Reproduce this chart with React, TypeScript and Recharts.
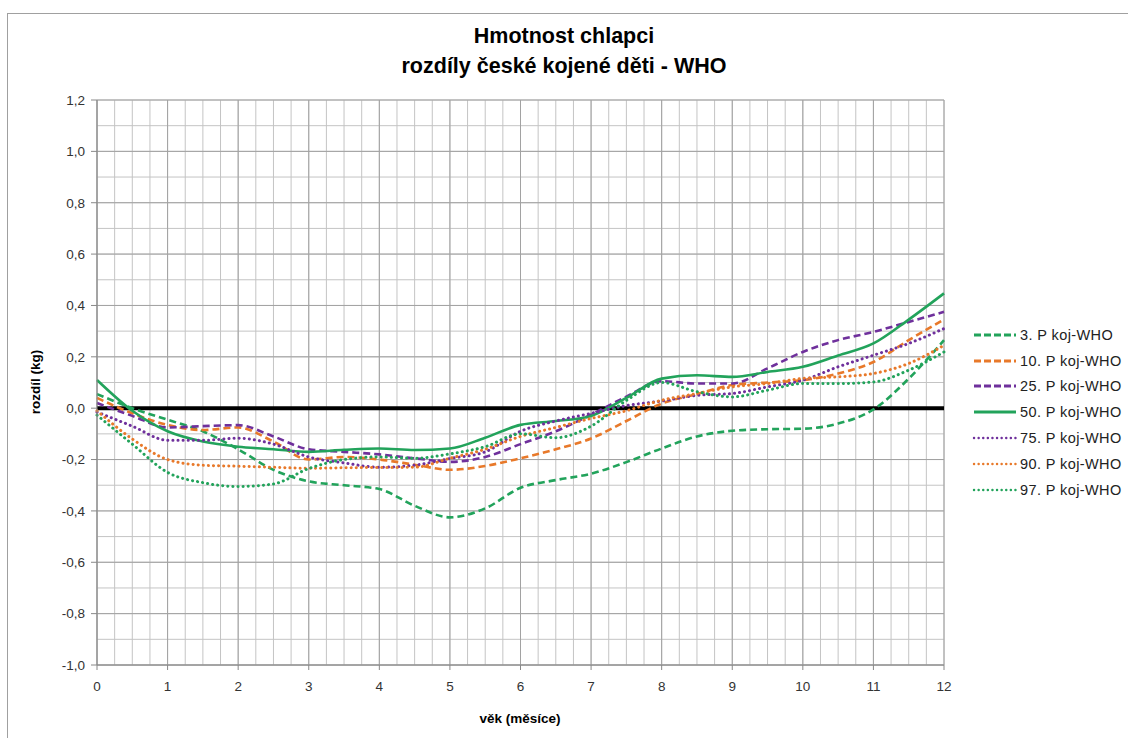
import React from "react"
import { LineChart, Line, XAxis, YAxis, CartesianGrid, ReferenceLine, Legend } from "recharts"

// months (věk) and differences in kg for each percentile
const months = [0, 0.5, 1, 1.5, 2, 2.5, 3, 3.5, 4, 4.5, 5, 5.5, 6, 6.5, 7, 7.5, 8, 8.5, 9, 9.5, 10, 10.5, 11, 11.5, 12]

const p3 = [0.055, 0.0, -0.045, -0.09, -0.16, -0.24, -0.285, -0.3, -0.315, -0.38, -0.425, -0.39, -0.31, -0.28, -0.255, -0.21, -0.157, -0.11, -0.088, -0.082, -0.08, -0.06, -0.005, 0.115, 0.265]
const p10 = [0.04, -0.02, -0.065, -0.085, -0.075, -0.13, -0.2, -0.19, -0.2, -0.22, -0.24, -0.225, -0.195, -0.16, -0.118, -0.05, 0.018, 0.055, 0.09, 0.1, 0.109, 0.135, 0.18, 0.265, 0.345]
const p25 = [0.02, -0.03, -0.075, -0.07, -0.066, -0.11, -0.16, -0.17, -0.18, -0.195, -0.209, -0.19, -0.14, -0.09, -0.025, 0.045, 0.105, 0.096, 0.096, 0.155, 0.219, 0.265, 0.297, 0.336, 0.375]
const p50 = [0.11, -0.01, -0.09, -0.13, -0.15, -0.16, -0.17, -0.162, -0.157, -0.163, -0.157, -0.115, -0.065, -0.05, -0.03, 0.04, 0.115, 0.128, 0.122, 0.141, 0.161, 0.205, 0.252, 0.345, 0.447]
const p75 = [-0.015, -0.07, -0.125, -0.125, -0.117, -0.14, -0.19, -0.213, -0.23, -0.222, -0.196, -0.17, -0.09, -0.05, -0.02, 0.01, 0.028, 0.05, 0.057, 0.083, 0.109, 0.161, 0.206, 0.252, 0.31]
const p90 = [-0.01, -0.12, -0.2, -0.222, -0.226, -0.23, -0.234, -0.232, -0.231, -0.23, -0.195, -0.16, -0.11, -0.075, -0.04, -0.01, 0.031, 0.057, 0.083, 0.096, 0.116, 0.122, 0.135, 0.174, 0.245]
const p97 = [-0.027, -0.14, -0.25, -0.29, -0.305, -0.295, -0.235, -0.2, -0.19, -0.195, -0.178, -0.15, -0.1, -0.115, -0.07, 0.03, 0.1, 0.064, 0.044, 0.07, 0.096, 0.096, 0.102, 0.148, 0.219]

const xTicks = [0, 1, 2, 3, 4, 5, 6, 7, 8, 9, 10, 11, 12]
const yTicks = [-1.0, -0.8, -0.6, -0.4, -0.2, 0, 0.2, 0.4, 0.6, 0.8, 1.0, 1.2]

const green = "#22a35b"
const orange = "#e8792a"
const purple = "#6f309c"

const series = [
  { key: "p3", name: "3. P koj-WHO", values: p3, color: green, style: "dash" },
  { key: "p10", name: "10. P koj-WHO", values: p10, color: orange, style: "dash" },
  { key: "p25", name: "25. P koj-WHO", values: p25, color: purple, style: "dash" },
  { key: "p50", name: "50. P koj-WHO", values: p50, color: green, style: "solid" },
  { key: "p75", name: "75. P koj-WHO", values: p75, color: purple, style: "dot" },
  { key: "p90", name: "90. P koj-WHO", values: p90, color: orange, style: "dot" },
  { key: "p97", name: "97. P koj-WHO", values: p97, color: green, style: "dot" }
]

const data = months.map((m, i) => {
  const row: any = { m }
  series.forEach((s) => (row[s.key] = s.values[i]))
  return row
})

// grid: quarter months, tenths of kg
const minorX = Array.from({ length: 49 }, (_, i) => i * 0.25)
const minorY = Array.from({ length: 23 }, (_, i) => Math.round((-1 + i * 0.1) * 10) / 10)

const dashFor = (style: string) =>
  style === "dash" ? "7 4" : style === "dot" ? "0.1 5" : undefined

const fmt = (v: number) => v.toFixed(1).replace(".", ",")

const font = "'Liberation Sans', Arial, sans-serif"

function LegendBox() {
  return (
    <div style={{ fontFamily: font, fontSize: 14.5, color: "#222" }}>
      {series.map((s) => (
        <div key={s.key} style={{ display: "flex", alignItems: "center", height: 25.8 }}>
          <svg width={46} height={10}>
            <line
              x1={2}
              y1={5}
              x2={44}
              y2={5}
              stroke={s.color}
              strokeWidth={s.style === "dot" ? 2.4 : 2.8}
              strokeDasharray={s.style === "dash" ? "7 3" : s.style === "dot" ? "0.1 4.5" : undefined}
              strokeLinecap={s.style === "dot" ? "round" : "butt"}
            />
          </svg>
          <span style={{ marginLeft: 2, letterSpacing: 0.4 }}>{s.name}</span>
        </div>
      ))}
    </div>
  )
}

export default function App() {
  return (
    <div style={{ position: "absolute", left: 0, top: 0, width: 1128, height: 738, overflow: "hidden", background: "#fff" }}>
      <div style={{ position: "absolute", left: 7, top: 13, width: 1300, height: 900, borderLeft: "1px solid #a0a0a0", borderTop: "1px solid #a0a0a0" }} />

      <div style={{ position: "absolute", left: 0, top: 21, width: 1128, textAlign: "center", fontFamily: font, fontWeight: "bold", fontSize: 21.5, lineHeight: "30px", color: "#000" }}>
        Hmotnost chlapci
        <br />
        rozdíly české kojené děti - WHO
      </div>

      <LineChart
        width={1128}
        height={738}
        data={data}
        margin={{ top: 100, right: 184, bottom: 43, left: 7 }}
        style={{ position: "absolute", left: 0, top: 0 }}
      >
        <CartesianGrid stroke="#c4c4c4" verticalValues={minorX} horizontalValues={minorY} />
        <CartesianGrid stroke="#a2a2a2" verticalValues={xTicks} horizontalValues={yTicks} />
        <XAxis
          dataKey="m"
          type="number"
          domain={[0, 12]}
          ticks={xTicks}
          interval={0}
          height={30}
          stroke="#888"
          tickSize={5}
          tickMargin={11}
          fontSize={13.5}
          fontFamily={font}
          tick={{ fill: "#333", fontSize: 13.5, fontFamily: font }}
        />
        <YAxis
          type="number"
          domain={[-1, 1.2]}
          ticks={yTicks}
          interval={0}
          width={90}
          stroke="#888"
          tickSize={6}
          tickMargin={6}
          tickFormatter={fmt}
          fontSize={13.5}
          fontFamily={font}
          tick={{ fill: "#333", fontSize: 13.5, fontFamily: font }}
        />
        <ReferenceLine y={0} stroke="#000" strokeWidth={4} />
        {series.map((s) => (
          <Line
            key={s.key}
            type="monotone"
            dataKey={s.key}
            name={s.name}
            stroke={s.color}
            strokeWidth={s.style === "dot" ? 3 : 2.6}
            strokeDasharray={dashFor(s.style)}
            strokeLinecap={s.style === "dot" ? "round" : "butt"}
            dot={false}
            activeDot={false}
            isAnimationActive={false}
          />
        ))}
        <Legend
          layout="vertical"
          align="center"
          verticalAlign="middle"
          content={() => <LegendBox />}
          wrapperStyle={{ left: 972, top: 322, width: 156 }}
        />
      </LineChart>

      <div style={{ position: "absolute", left: 35, top: 382, transform: "translate(-50%, -50%) rotate(-90deg)", fontFamily: font, fontWeight: "bold", fontSize: 13.5, whiteSpace: "nowrap" }}>
        rozdíl (kg)
      </div>
      <div style={{ position: "absolute", left: 520, top: 718, transform: "translate(-50%, -50%)", fontFamily: font, fontWeight: "bold", fontSize: 13.5, whiteSpace: "nowrap" }}>
        věk (měsíce)
      </div>
    </div>
  )
}
